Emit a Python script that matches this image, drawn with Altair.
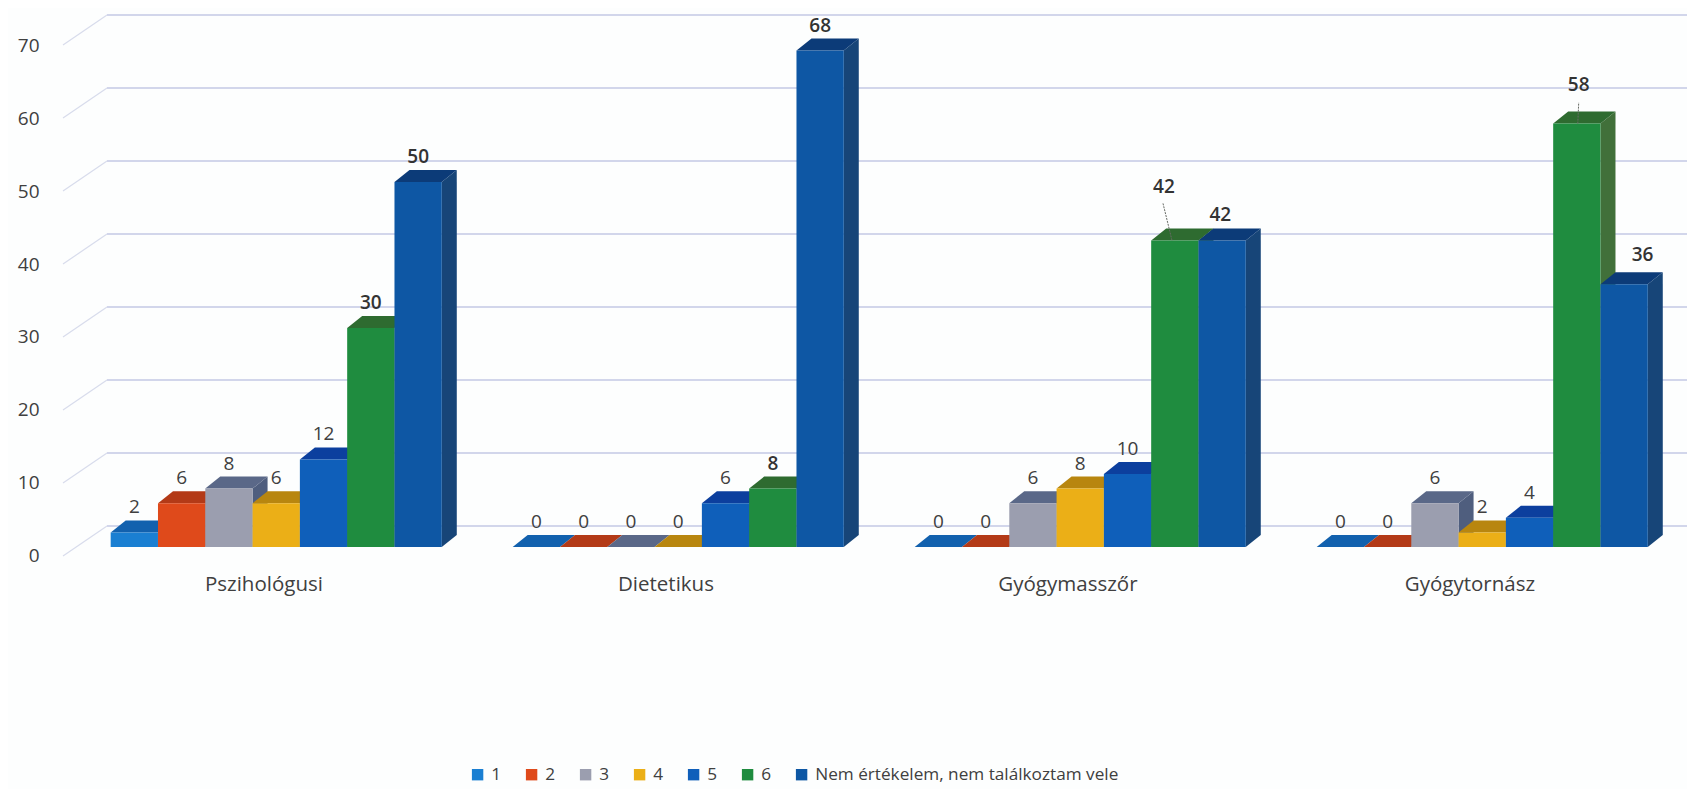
import altair as alt
import pandas as pd

categories = ["Pszihológusi", "Dietetikus", "Gyógymasszőr", "Gyógytornász"]
series = ["1", "2", "3", "4", "5", "6", "Nem értékelem, nem találkoztam vele"]
s1 = [2, 0, 0, 0]
s2 = [6, 0, 0, 0]
s3 = [8, 0, 6, 6]
s4 = [6, 0, 8, 2]
s5 = [12, 6, 10, 4]
s6 = [30, 8, 42, 58]
s7 = [50, 68, 42, 36]
values = [s1, s2, s3, s4, s5, s6, s7]
front_colors = ["#1A7FD2", "#DF4A1B", "#9B9EAF", "#EBAF17", "#0F5FBA", "#1F8C3F", "#0E57A4"]
top_colors = ["#1261AE", "#B33A17", "#5A6888", "#B8860F", "#0C3F9E", "#2E6B30", "#0C3B78"]
side_colors = ["#10569C", "#A53518", "#4F5E7E", "#A97A10", "#0C4490", "#41703A", "#174578"]
bold_labels = [(0, 5), (0, 6), (1, 5), (1, 6), (2, 5), (2, 6), (3, 5), (3, 6)]
# label nudges (slots, value units) for labels that sit away from their bar
nudges = {(2, 5): (-0.23, 3.84), (3, 5): (0.04, 1.9), (2, 6): (-0.04, 0), (3, 6): (0.39, 0.55)}
# leader lines: value-unit length, position at the bar, position at the label
leader_spec = {(2, 5): (5.07, 0.44, 0.25), (3, 5): (2.9, 0.52, 0.54)}
ticks = [0, 10, 20, 30, 40, 50, 60, 70]

PX_X = 47.3
PX_Y = 7.3
GROUP_STEP = 402 / PX_X
DX = 15 / PX_X
DU = 12 / PX_Y
BASE = 9 / PX_Y
WALL_X = -0.078
FLOOR_X = -1.008
WALL_U = 30 / PX_Y
LABEL_X = 3.24
XMAX = FLOOR_X + 1624 / PX_X

x_scale = alt.Scale(domain=[FLOOR_X, XMAX], nice=False, zero=False)
y_scale = alt.Scale(domain=[-31.92, 75.07], nice=False, zero=False)
y_axis = alt.Axis(
    values=ticks, domain=False, ticks=False, grid=False, title=None,
    labelFontSize=19, labelColor="#404040", labelFont="Open Sans", labelPadding=24)

faces, labels, legend_rows, leaders = [], [], [], []
for g in range(len(categories)):
    x00 = g * GROUP_STEP
    for j, sv in enumerate(values):
        v = sv[g]
        x0, x1 = x00 + j, x00 + j + 1
        top = BASE + v
        fid = f"{g:02d}-{j:02d}"
        for x, a, b in [(x1, BASE, top), (x1 + DX, BASE + DU, top + DU)]:
            faces.append(dict(face=fid + "-a", px=x, lo=a, hi=b, col=side_colors[j]))
        for x, a, b in [(x0, top, top), (x0 + DX, top, top + DU), (x1, top, top + DU), (x1 + DX, top + DU, top + DU)]:
            faces.append(dict(face=fid + "-b", px=x, lo=a, hi=b, col=top_colors[j]))
        for x in [x0, x1]:
            faces.append(dict(face=fid + "-c", px=x, lo=BASE, hi=top, col=front_colors[j]))
        nx, ny = nudges.get((g, j), (0, 0))
        labels.append(dict(x=x0 + 0.5 + nx, y=top + ny, t=str(v), bold=(g, j) in bold_labels))
        if (g, j) in leader_spec:
            length, a, b = leader_spec[(g, j)]
            leaders.append(dict(lid=f"{g}-{j}", x=x0 + a, y=top))
            leaders.append(dict(lid=f"{g}-{j}", x=x0 + b, y=top + length))
        legend_rows.append(dict(x=x0 + 0.5, y=v, s=series[j]))

faces_df = pd.DataFrame(faces)
labels_df = pd.DataFrame(labels)

grid_rows, diag_rows = [], []
for t in ticks:
    grid_rows.append(dict(x=WALL_X, x2=XMAX, y=t + WALL_U))
    diag_rows.append(dict(t=t, x=FLOOR_X, y=t))
    diag_rows.append(dict(t=t, x=WALL_X, y=t + WALL_U))

X = lambda f: alt.X(f, scale=x_scale, axis=None)
Y = lambda f: alt.Y(f, scale=y_scale, axis=y_axis)

grid = alt.Chart(pd.DataFrame(grid_rows)).mark_rule(color="#C3C9E4", strokeWidth=1.3).encode(
    x=X("x:Q"), x2="x2:Q", y=Y("y:Q"))
diag = alt.Chart(pd.DataFrame(diag_rows)).mark_line(color="#D8DCEC", strokeWidth=1.2).encode(
    x=X("x:Q"), y=Y("y:Q"), detail="t:N")

bars = alt.Chart(faces_df).mark_area(opacity=1, interpolate="linear", orient="vertical").encode(
    x=X("px:Q"),
    y=alt.Y("lo:Q", scale=y_scale, axis=y_axis, stack=None),
    y2="hi:Q",
    fill=alt.Fill("col:N", scale=None, legend=None),
    detail="face:N",
)

legend_layer = alt.Chart(pd.DataFrame(legend_rows)).mark_square(size=0, opacity=1).encode(
    x=X("x:Q"),
    y=Y("y:Q"),
    color=alt.Color("s:N", scale=alt.Scale(domain=series, range=front_colors), sort=series,
                    legend=alt.Legend(orient="none", legendX=406, legendY=758, direction="horizontal",
                                      columns=7, symbolType="square", symbolSize=130, title=None,
                                      labelFontSize=17.2, labelFont="Open Sans", labelColor="#404040",
                                      labelLimit=500, columnPadding=21, labelOffset=5, symbolStrokeWidth=0)),
)

leader = alt.Chart(pd.DataFrame(leaders)).mark_line(color="#666A64", strokeWidth=1, strokeDash=[2, 1]).encode(
    x=X("x:Q"), y=Y("y:Q"), detail="lid:N")

text_reg = alt.Chart(labels_df[~labels_df.bold]).mark_text(
    font="Open Sans", fontSize=19, color="#404040", dy=-25, baseline="middle"
).encode(x=X("x:Q"), y=Y("y:Q"), text="t:N")
text_bold = alt.Chart(labels_df[labels_df.bold]).mark_text(
    font="Open Sans", fontSize=19, fontWeight=600, color="#333333", dy=-25, baseline="middle"
).encode(x=X("x:Q"), y=Y("y:Q"), text="t:N")

cat_df = pd.DataFrame({"c": categories, "x": [i * GROUP_STEP + LABEL_X for i in range(len(categories))]})
cat_text = alt.Chart(cat_df).mark_text(
    font="Open Sans", fontSize=20.5, color="#404040", baseline="middle"
).encode(x=X("x:Q"), y=alt.value(577), text="c:N")

chart = alt.layer(grid, diag, bars, legend_layer, leader, text_reg, text_bold, cat_text).resolve_scale(
    color="independent"
).properties(
    width=1624, height=781, background="#FDFEFE",
    padding={"left": 55, "right": 0, "top": 0, "bottom": 0},
    autosize=alt.AutoSizeParams(type="none"),
).configure_view(stroke=None)

chart.save("out.html", embed_options={"renderer": "svg", "actions": False})
